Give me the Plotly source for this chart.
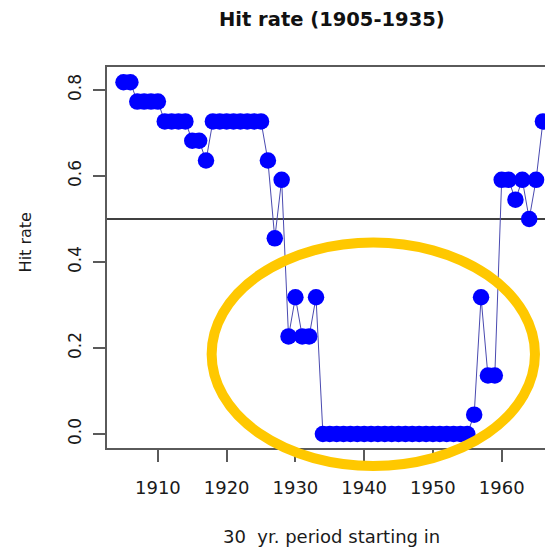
import plotly.graph_objects as go

# ---- data ----
years = list(range(1905, 1967))
hit_rate = [
    0.818, 0.818,
    0.773, 0.773, 0.773, 0.773,
    0.727, 0.727, 0.727, 0.727,
    0.682, 0.682,
    0.636,
    0.727, 0.727, 0.727, 0.727, 0.727, 0.727, 0.727, 0.727,
    0.636, 0.455, 0.591,
    0.227, 0.318, 0.227, 0.227, 0.318,
    0.0, 0.0, 0.0, 0.0, 0.0, 0.0, 0.0, 0.0, 0.0, 0.0, 0.0,
    0.0, 0.0, 0.0, 0.0, 0.0, 0.0, 0.0, 0.0, 0.0, 0.0, 0.0,
    0.045, 0.318, 0.136, 0.136,
    0.591, 0.591, 0.545, 0.591, 0.5, 0.591, 0.727,
]
x_ticks = [1910, 1920, 1930, 1940, 1950, 1960]
y_ticks = [0.0, 0.2, 0.4, 0.6, 0.8]
reference_level = 0.5

title_text = "Hit rate (1905-1935)"
x_title = "30  yr. period starting in"
y_title = "Hit rate"

FONT = "DejaVu Sans"
AXIS_COL = "#5a5a5a"

fig = go.Figure()
fig.add_trace(go.Scatter(
    x=years, y=hit_rate, mode="lines+markers",
    line=dict(color="#4a4ab0", width=1),
    marker=dict(color="#0000ff", size=16.5, line=dict(width=0)),
    cliponaxis=False, showlegend=False,
))

# horizontal reference line
fig.add_shape(type="line", xref="paper", x0=0, x1=1, yref="y",
              y0=reference_level, y1=reference_level,
              line=dict(color="black", width=1.6), layer="below")

# highlighted region ellipse
fig.add_shape(type="circle", xref="paper", yref="paper",
              x0=0.2389, x1=0.9771, y0=-0.047, y1=0.5394,
              line=dict(color="#ffc800", width=10), layer="above")

fig.update_layout(
    width=545, height=548,
    margin=dict(l=107, r=0, t=67, b=100, pad=0),
    paper_bgcolor="white", plot_bgcolor="white",
    font=dict(family=FONT, size=18, color="#1a1a1a"),
    xaxis=dict(range=[1902.6, 1966.3], tickvals=x_ticks,
               showgrid=False, zeroline=False,
               showline=True, linecolor=AXIS_COL, linewidth=2, mirror=True,
               ticks="outside", ticklen=12, tickwidth=1.5, tickcolor=AXIS_COL,
               ticklabelstandoff=10,
               tickfont=dict(size=18, family=FONT)),
    yaxis=dict(range=[-0.0326, 0.8535], tickvals=y_ticks, tickformat=".1f",
               showgrid=False, zeroline=False,
               showline=True, linecolor=AXIS_COL, linewidth=2,
               ticks="outside", ticklen=12, tickwidth=1.5, tickcolor=AXIS_COL,
               ticklabelstandoff=5,
               tickangle=-90, tickfont=dict(size=17, family=FONT)),
    annotations=[
        dict(text="<b>" + title_text + "</b>", xref="paper", yref="paper",
             x=0.5143, y=1.1234, xanchor="center", yanchor="middle",
             showarrow=False, font=dict(size=19.5, family=FONT, color="#111")),
        dict(text=x_title, xref="paper", yref="paper",
             x=0.512, y=-0.2328, xanchor="center", yanchor="middle",
             showarrow=False, font=dict(size=18, family=FONT)),
        dict(text=y_title, xref="paper", yref="paper", textangle=-90,
             x=-0.184, y=0.5407, xanchor="center", yanchor="middle",
             showarrow=False, font=dict(size=16, family=FONT)),
    ],
)

fig.write_html("out.html")
